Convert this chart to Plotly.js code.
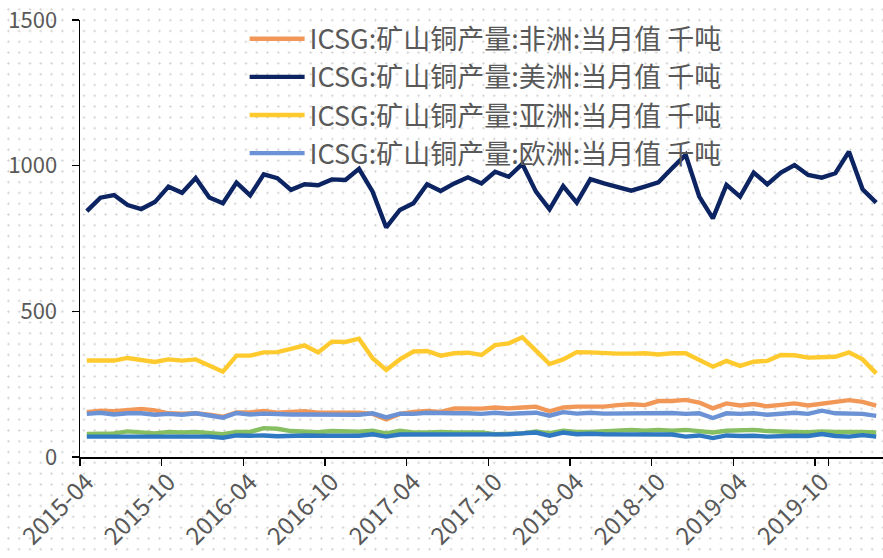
<!DOCTYPE html>
<html>
<head>
<meta charset="utf-8">
<script src="https://cdn.plot.ly/plotly-3.0.1.min.js"></script>
<style>
html,body{margin:0;padding:0;background:#fff;}
#wrap{width:883px;height:558px;position:relative;
 background-image:radial-gradient(circle, #d2d2d2 0.9px, rgba(255,255,255,0) 1.3px);
 background-size:10.8px 10.8px;background-position:3px 4px;}
#chart{width:883px;height:558px;}
</style>
</head>
<body>
<div id="wrap"><div id="chart"></div></div>
<script>
// months 2015-04 .. 2020-02
const months = [];
(function(){ let y=2015, m=4; for(let k=0;k<59;k++){ months.push(y+'-'+String(m).padStart(2,'0')); m++; if(m>12){m=1;y++;} } })();

const tickLabels = ['2015-04','2015-10','2016-04','2016-10','2017-04','2017-10','2018-04','2018-10','2019-04','2019-10'];

const africa = [154,159,157,162,165,160,150,149,150,145,138,153,153,158,152,155,157,152,153,151,152,148,129,148,155,158,155,167,167,166,170,167,170,173,157,170,173,173,173,178,181,178,192,192,196,187,167,184,177,182,174,179,184,177,184,190,195,189,176];
const america = [844,890,899,865,851,875,928,907,958,891,871,942,898,970,957,917,936,933,953,951,989,911,788,848,871,936,913,939,960,939,979,962,1006,911,850,930,873,954,939,925,914,928,943,991,1037,894,819,934,894,976,936,976,1002,968,959,974,1048,919,873];
const asia = [331,331,331,340,333,326,335,331,335,316,293,348,348,359,360,371,383,359,396,395,406,339,299,335,362,364,348,356,358,350,384,390,411,365,319,335,360,359,356,355,355,356,352,356,356,335,310,330,313,327,330,350,349,341,342,344,359,335,287];
const europe = [148,152,146,150,150,145,148,145,150,143,135,151,146,149,146,146,146,145,146,143,145,150,136,149,148,152,150,150,150,148,152,148,150,152,142,154,149,152,149,150,150,151,150,151,148,150,134,150,148,150,145,150,152,148,159,150,149,148,141];
const oceania = [79,81,81,88,84,81,86,84,86,81,78,86,86,99,97,89,87,85,89,87,87,90,81,90,84,84,86,84,84,84,78,78,81,88,82,90,86,86,88,93,93,90,93,90,93,89,84,90,90,93,89,86,86,85,88,86,87,86,84];
const other = [70,70,70,71,70,70,71,71,71,70,66,74,73,74,71,74,74,73,72,72,73,78,70,77,77,80,77,79,78,79,78,78,81,84,73,84,78,80,78,78,78,78,80,77,70,74,65,74,72,73,70,73,73,72,79,72,70,75,70];

const names = ['ICSG:矿山铜产量:非洲:当月值 千吨','ICSG:矿山铜产量:美洲:当月值 千吨','ICSG:矿山铜产量:亚洲:当月值 千吨','ICSG:矿山铜产量:欧洲:当月值 千吨','ICSG:矿山铜产量:大洋洲:当月值 千吨','ICSG:矿山铜产量:其他:当月值 千吨'];
const colors = ['#F19858','#0D2463','#FFCA2E','#6A92D4','#86BE62','#2F78C2'];
const series = [africa, america, asia, europe, oceania, other];

const traces = series.map((s,k)=>({
  type:'scatter', mode:'lines', x:months, y:s, name:names[k],
  line:{color:colors[k], width:4.4}, showlegend:k<4, legendgroup:'g'+k
}));

const FONT = '"Noto Sans CJK SC","Noto Sans",sans-serif';
const layout = {
  width:883, height:558,
  margin:{l:80,r:0,t:20,b:101,pad:0},
  paper_bgcolor:'rgba(0,0,0,0)', plot_bgcolor:'rgba(0,0,0,0)',
  font:{family:FONT, color:'#595959', size:19},
  xaxis:{type:'category', range:[-0.5,58.5], tickmode:'array', tickvals:tickLabels, ticktext:tickLabels,
    tickson:'boundaries', ticks:'outside', ticklen:7, tickwidth:1.5, tickcolor:'#000',
    showline:true, linecolor:'#000', linewidth:1.5, showgrid:false, zeroline:false,
    tickangle:-45, tickfont:{size:24, color:'#595959', family:FONT}},
  yaxis:{range:[0,1500], tickvals:[0,500,1000,1500], ticks:'outside', ticklen:7, tickwidth:1.5, tickcolor:'#000',
    showline:true, linecolor:'#000', linewidth:1.5, showgrid:false, zeroline:false,
    ticklabelstandoff:10, tickfont:{size:22, color:'#595959', family:FONT}},
  legend:{x:0.205, y:1.012, xanchor:'left', yanchor:'top', bgcolor:'rgba(0,0,0,0)',
    font:{size:27, color:'#595959', family:FONT}, itemwidth:55, traceorder:'grouped', tracegroupgap:0},
  showlegend:true
};
Plotly.newPlot('chart', traces, layout, {displayModeBar:false, staticPlot:true});
</script>
</body>
</html>
